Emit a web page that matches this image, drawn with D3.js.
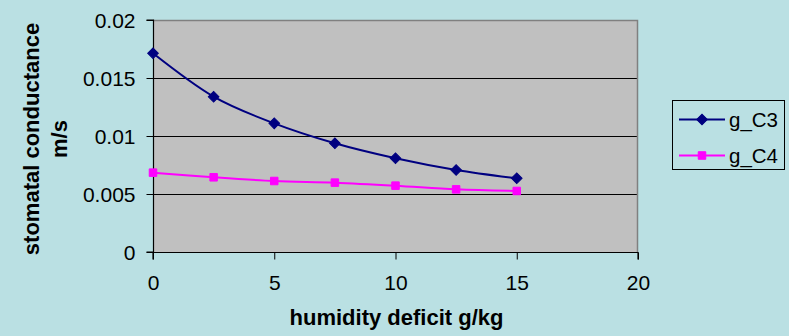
<!DOCTYPE html>
<html>
<head>
<meta charset="utf-8">
<script src="https://cdn.jsdelivr.net/npm/d3@7"></script>
<style>
  html, body { margin: 0; padding: 0; background: #bae0e3; }
  svg { display: block; font-family: "Liberation Sans", Arial, sans-serif; }
</style>
</head>
<body>
<svg id="chart" width="789" height="336"></svg>
<script>
// Humidity deficit (g/kg) and stomatal conductance (m/s) for C3 and C4 plants
const deficit = [0, 2.5, 5, 7.5, 10, 12.5, 15];
const gC3 = [0.01713, 0.01339, 0.01109, 0.00937, 0.00808, 0.00707, 0.00635];
const gC4 = [0.00684, 0.00644, 0.00612, 0.00598, 0.00572, 0.0054, 0.00526];
const xTicks = [0, 5, 10, 15, 20];
const yTicks = [0, 0.005, 0.01, 0.015, 0.02];
const seriesNames = ["g_C3", "g_C4"];

const svg = d3.select("#chart");
const plot = { left: 153, right: 638, top: 20, bottom: 252 };

const x = d3.scaleLinear().domain([0, 20]).range([plot.left, plot.right]);
const y = d3.scaleLinear().domain([0, 0.02]).range([plot.bottom, plot.top]);

// plot area background
svg.append("rect")
  .attr("x", plot.left).attr("y", plot.top)
  .attr("width", plot.right - plot.left).attr("height", plot.bottom - plot.top)
  .attr("fill", "#c0c0c0");

// horizontal gridlines
svg.append("g").selectAll("line")
  .data(yTicks.slice(1, -1))
  .join("line")
  .attr("x1", plot.left).attr("x2", plot.right)
  .attr("y1", d => Math.round(y(d)) + 0.5).attr("y2", d => Math.round(y(d)) + 0.5)
  .attr("stroke", "#000").attr("stroke-width", 1);

// grey frame on top and right
svg.append("path")
  .attr("d", `M${plot.left},${plot.top + 0.5}H${plot.right - 0.5}V${plot.bottom}`)
  .attr("fill", "none").attr("stroke", "#808080").attr("stroke-width", 1.5);

// axes
const yAxis = d3.axisLeft(y).tickValues(yTicks).tickSize(7).tickPadding(11)
  .tickFormat(d => d3.format("")(+d.toFixed(3)));
const gy = svg.append("g").attr("transform", `translate(${plot.left + 0.5},0)`).call(yAxis);

const xAxis = d3.axisBottom(x).tickValues(xTicks).tickSize(7).tickPadding(15.5)
  .tickFormat(d3.format("d"));
const gx = svg.append("g").attr("transform", `translate(0,${plot.bottom + 0.5})`).call(xAxis);

[gx, gy].forEach(g => {
  g.select(".domain").attr("stroke", "#000").attr("stroke-width", 1.2);
  g.selectAll(".tick line").attr("stroke", "#000");
  g.selectAll(".tick text").attr("fill", "#000")
    .style("font-size", "21px").style("font-family", "\"Liberation Sans\", Arial, sans-serif");
});
gy.select(".domain").attr("d", `M-7,${plot.top}H0V${plot.bottom}H-7`);
gx.select(".domain").attr("d", `M${plot.left},7V0H${plot.right}V7`);
gy.selectAll(".tick text").attr("dy", "0.36em");

// axis titles
svg.append("text")
  .attr("x", 396.5).attr("y", 325)
  .attr("text-anchor", "middle")
  .style("font-size", "22px").style("font-weight", "bold")
  .text("humidity deficit g/kg");

const yTitle = svg.append("text")
  .attr("transform", "translate(38.5,139) rotate(-90)")
  .attr("text-anchor", "middle")
  .style("font-size", "22px").style("font-weight", "bold");
yTitle.append("tspan").attr("x", 0).attr("y", 0).text("stomatal conductance");
yTitle.append("tspan").attr("x", 0).attr("y", 28).text("m/s");

// series
const series = [
  { name: seriesNames[0], values: gC3, color: "#000080", diamond: true, size: 72 },
  { name: seriesNames[1], values: gC4, color: "#ff00ff", diamond: false, size: 72 }
];

const line = d3.line()
  .x(d => x(d[0])).y(d => y(d[1]))
  .curve(d3.curveCatmullRom.alpha(0));

const markerShape = s => d3.symbol(d3.symbolSquare2, s.size);

series.forEach(s => {
  const pts = deficit.map((d, i) => [d, s.values[i]]);
  svg.append("path")
    .datum(pts)
    .attr("d", line)
    .attr("fill", "none")
    .attr("stroke", s.color)
    .attr("stroke-width", 2);
  svg.append("g").selectAll("path")
    .data(pts)
    .join("path")
    .attr("d", markerShape(s))
    .attr("transform", d => `translate(${x(d[0])},${y(d[1])})` + (s.diamond ? " rotate(45)" : ""))
    .attr("fill", s.color)
    .attr("stroke", s.color)
    .attr("stroke-width", 1);
});

// legend
const legend = svg.append("g");
legend.append("rect")
  .attr("x", 672.5).attr("y", 100.5).attr("width", 112).attr("height", 69)
  .attr("fill", "none")
  .attr("stroke", "#000").attr("stroke-width", 1);
series.forEach((s, i) => {
  const cy = 119.5 + i * 36;
  legend.append("line")
    .attr("x1", 679).attr("x2", 725).attr("y1", cy).attr("y2", cy)
    .attr("stroke", s.color).attr("stroke-width", 2);
  legend.append("path")
    .attr("d", markerShape(s))
    .attr("transform", `translate(702,${cy})` + (s.diamond ? " rotate(45)" : ""))
    .attr("fill", s.color).attr("stroke", s.color);
  legend.append("text")
    .attr("x", 729).attr("y", cy).attr("dy", "0.36em")
    .style("font-size", "20.5px")
    .text(s.name);
});
</script>
</body>
</html>
